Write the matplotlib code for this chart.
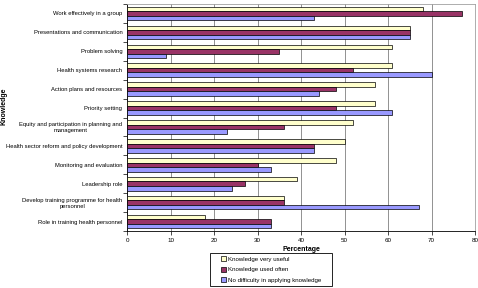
import numpy as np
import matplotlib
matplotlib.use('Agg')
import matplotlib.pyplot as plt
from matplotlib.patches import Rectangle

plt.rcParams['font.family'] = ['Liberation Sans', 'DejaVu Sans']

categories = ['Work effectively in a group',
              'Presentations and communication',
              'Problem solving',
              'Health systems research',
              'Action plans and resources',
              'Priority setting',
              'Equity and participation in planning and\nmanagement',
              'Health sector reform and policy development',
              'Monitoring and evaluation',
              'Leadership role',
              'Develop training programme for health\npersonnel',
              'Role in training health personnel']
very_useful = [68, 65, 61, 61, 57, 57, 52, 50, 48, 39, 36, 18]
used_often = [77, 65, 35, 52, 48, 48, 36, 43, 30, 27, 36, 33]
no_difficulty = [43, 65, 9, 70, 44, 61, 23, 43, 33, 24, 67, 33]

series = [('Knowledge very useful', very_useful, '#ffffcc'),
          ('Knowledge used often', used_often, '#993366'),
          ('No difficulty in applying knowledge', no_difficulty, '#9999ff')]

fig = plt.figure(figsize=(4.78, 2.88), dpi=100)
ax = fig.add_axes([0.266, 0.198, 0.728, 0.788])

y = np.arange(len(categories))
h = 0.24
for i, (name, vals, col) in enumerate(series):
    ax.barh(y + (i - 1) * h, vals, height=h, color=col, edgecolor='black',
            linewidth=0.5, label=name, zorder=3)

ax.set_ylim(len(categories) - 0.5, -0.5)
ax.set_xlim(0, 80)
ax.set_xticks(range(0, 81, 10))
ax.set_yticks(y)
ax.set_yticklabels(categories, fontsize=4.2, ha='right', multialignment='center')
ax.tick_params(axis='y', length=0, pad=3.5)
ax.set_yticks(np.arange(-0.5, len(categories), 1), minor=True)
ax.tick_params(axis='y', which='minor', length=3, width=0.5)
ax.tick_params(axis='x', labelsize=4.5, length=3, width=0.5, pad=2)
ax.grid(axis='x', color='#808080', linewidth=0.6, zorder=0)

for s in ['top', 'right']:
    ax.spines[s].set_color('#a0a0a0')
    ax.spines[s].set_linewidth(0.6)
for s in ['left', 'bottom']:
    ax.spines[s].set_linewidth(0.6)

ax.set_xlabel('Percentage', fontsize=5, fontweight='bold', labelpad=2.5)
ax.set_ylabel('Knowledge', fontsize=5, fontweight='bold', labelpad=0)
ax.yaxis.set_label_coords(-0.345, 0.55)

leg = fig.legend(loc='center', bbox_to_anchor=(0.567, 0.064), fontsize=4.4,
                 frameon=False, handlelength=0.8, handleheight=0.8,
                 handletextpad=0.3, labelspacing=0.85, borderpad=0.5)

# wider box around the legend, like the original
fig.canvas.draw()
bb = leg.get_window_extent().transformed(fig.transFigure.inverted())
padx = 8 / 478
fig.patches.append(Rectangle((bb.x0 - padx, bb.y0), bb.width + 2 * padx, bb.height,
                             transform=fig.transFigure, fill=False,
                             edgecolor='black', linewidth=0.6))

fig.savefig('out.png', dpi=100)
